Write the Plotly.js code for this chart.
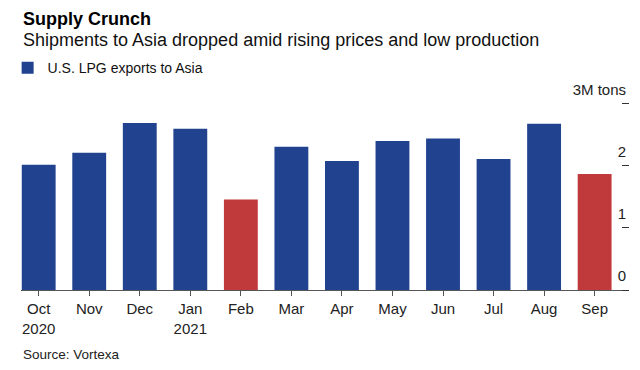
<!DOCTYPE html>
<html>
<head>
<meta charset="utf-8">
<script src="https://cdn.plot.ly/plotly-3.0.1.min.js"></script>
<style>html,body{margin:0;padding:0;background:#fff;}#chart{width:640px;height:370px;}</style>
</head>
<body>
<div id="chart"></div>
<script>
const months = ["Oct<br>2020","Nov","Dec","Jan<br>2021","Feb","Mar","Apr","May","Jun","Jul","Aug","Sep"];
const exportsMTons = [2.02, 2.21, 2.69, 2.60, 1.46, 2.31, 2.08, 2.40, 2.44, 2.11, 2.68, 1.87];
const highlighted = [false,false,false,false,true,false,false,false,false,false,false,true];
const yTickVals = [0, 1, 2, 3];
const yTickText = ["0", "1", "2", "3M tons"];
const seriesName = "U.S. LPG exports to Asia";
const titleText = "Supply Crunch";
const subtitleText = "Shipments to Asia dropped amid rising prices and low production";
const sourceText = "Source: Vortexa";

const BLUE = "#21428f", RED = "#c0393b";
const FONT = "Liberation Sans, Arial, sans-serif";

const trace = {
  type: "bar",
  x: months,
  y: exportsMTons,
  name: seriesName,
  showlegend: true,
  marker: {color: highlighted.map(h => h ? RED : BLUE), line: {width: 0}},
  hoverinfo: "skip"
};

const layout = {
  width: 640, height: 370,
  margin: {l: 21, r: 11, t: 79, b: 80, pad: 0, autoexpand: false},
  paper_bgcolor: "#fff", plot_bgcolor: "#fff",
  font: {family: FONT, color: "#222", size: 15},
  bargap: 0.33,
  showlegend: true,
  legend: {
    orientation: "h", x: -0.022, xanchor: "left", y: 1.052, yanchor: "middle",
    font: {family: FONT, size: 14, color: "#111"}, bgcolor: "rgba(0,0,0,0)"
  },
  xaxis: {
    type: "category", range: [-0.35, 11.68], fixedrange: true, domain: [0, 1],
    showline: true, linecolor: "#555", linewidth: 1,
    ticks: "outside", ticklen: 5, tickcolor: "#555", tickwidth: 1,
    tickfont: {family: FONT, size: 15, color: "#222"},
    showgrid: false, zeroline: false
  },
  yaxis: {
    range: [0, 3.4], side: "left", anchor: "free", position: 1, fixedrange: true,
    tickvals: yTickVals, ticktext: yTickText,
    ticks: "outside", ticklen: 7, tickcolor: "#333", tickwidth: 1,
    ticklabelposition: "outside top", ticklabelshift: -3,
    tickfont: {family: FONT, size: 15, color: "#222"},
    showgrid: false, zeroline: false, showline: false
  },
  annotations: [
    {xref: "paper", yref: "paper", x: 0, y: 1.284, xanchor: "left", yanchor: "middle",
     text: "<b>" + titleText + "</b>", showarrow: false, font: {family: FONT, size: 18, color: "#000"}},
    {xref: "paper", yref: "paper", x: 0, y: 1.185, xanchor: "left", yanchor: "middle",
     text: subtitleText, showarrow: false, font: {family: FONT, size: 18, color: "#111"}},
    {xref: "paper", yref: "paper", x: 0, y: -0.308, xanchor: "left", yanchor: "middle",
     text: sourceText, showarrow: false, font: {family: FONT, size: 13.5, color: "#222"}}
  ]
};

Plotly.newPlot("chart", [trace], layout, {displayModeBar: false, staticPlot: true});
</script>
</body>
</html>
